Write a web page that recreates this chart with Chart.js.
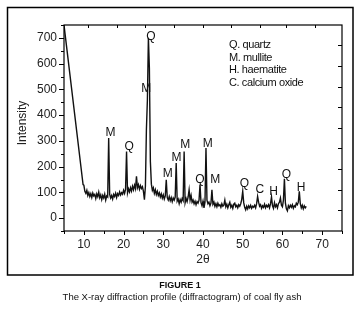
<!DOCTYPE html>
<html>
<head>
<meta charset="utf-8">
<style>
  html, body { margin: 0; padding: 0; background: #fff; }
</style>
<script src="https://cdn.jsdelivr.net/npm/chart.js"></script>
</head>
<body>
<canvas id="xrdChart" width="360" height="311"></canvas>
<script>
// lead-in of the scan (steep fall from the low-angle edge)
const leadTheta = [5, 9.8];
const leadIntensity = [750, 130];

// main scan, 2θ from 10 to 66 in steps of 0.25
const scanStart = 10;
const scanStep = 0.25;
const scanIntensity = [
  128, 104, 96, 108,   // 10
  88, 99, 84, 95,      // 11
  80, 97, 86, 92,      // 12
  76, 94, 83, 101,     // 13
  79, 90, 72, 88,      // 14
  78, 93, 70, 86,      // 15
  82, 311, 92, 78,     // 16
  88, 74, 92, 84,      // 17
  97, 80, 95, 88,      // 18
  102, 90, 99, 93,     // 19
  108, 96, 112, 259,   // 20
  98, 114, 102, 118,   // 21
  105, 124, 110, 128,  // 22
  114, 162, 118, 130,  // 23
  112, 126, 115, 122,  // 24
  104, 72, 124, 344,   // 25
  460, 700, 583, 220,  // 26
  132, 108, 118, 96,   // 27
  110, 92, 104, 88,    // 28
  98, 82, 94, 78,      // 29
  90, 74, 86, 149,     // 30
  80, 70, 84, 68,      // 31
  80, 64, 78, 70,      // 32
  82, 214, 66, 74,     // 33
  56, 72, 62, 76,      // 34
  68, 259, 60, 76,     // 35
  64, 82, 110, 70,     // 36
  88, 62, 70, 56,      // 37
  66, 52, 64, 58,      // 38
  70, 130, 60, 48,     // 39
  66, 40, 62, 272,     // 40
  70, 56, 62, 48,      // 41
  58, 110, 54, 62,     // 42
  46, 56, 44, 58,      // 43
  48, 52, 42, 56,      // 44
  46, 50, 70, 44,      // 45
  54, 40, 52, 62,      // 46
  42, 50, 38, 54,      // 47
  58, 44, 50, 40,      // 48
  52, 46, 56, 72,      // 49
  104, 60, 42, 32,     // 50
  46, 36, 48, 40,      // 51
  50, 38, 46, 42,      // 52
  50, 40, 56, 84,      // 53
  62, 46, 52, 38,      // 54
  48, 42, 54, 40,      // 55
  50, 44, 52, 40,      // 56
  56, 82, 48, 38,      // 57
  60, 44, 52, 40,      // 58
  56, 62, 78, 50,      // 59
  44, 70, 153, 58,     // 60
  36, 28, 48, 40,      // 61
  50, 42, 52, 38,      // 62
  48, 44, 58, 52,      // 63
  62, 104, 56, 40,     // 64
  50, 36, 48, 40,      // 65
  46                   // 66
];

// phase letters above the peaks
const peakText  = ["M", "Q", "M", "Q", "M", "M", "M", "Q", "M", "M", "Q", "C", "H", "Q", "H"];
const peakTheta = [16.7, 21.4, 25.7, 26.9, 31.1, 33.3, 35.5, 39.2, 41.2, 43.1, 50.4, 54.3, 57.8, 61.0, 64.7];
const peakLevel = [331, 276, 502, 704, 172, 233, 284, 149, 289, 149, 135, 110, 101, 168, 117];

const legendLines = ["Q. quartz", "M. mullite", "H. haematite", "C. calcium oxide"];

const xTicks = [10, 20, 30, 40, 50, 60, 70];
const yTicks = [0, 100, 200, 300, 400, 500, 600, 700];
const topAxisTicks = [11.1, 18.3, 25.5, 32.7, 39.9, 47.1, 54.3, 61.0, 68.2];
const rightAxisTicks = [31, 111, 191, 271, 351, 431, 511, 591, 671];

let points = leadTheta.map((t, i) => ({ x: t, y: leadIntensity[i] }));
scanIntensity.forEach((v, i) => {
  points.push({ x: scanStart + i * scanStep, y: v });
});

const FONT = "'Liberation Sans', Arial, sans-serif";

const framePlugin = {
  id: "frame",
  afterDraw(chart) {
    const ctx = chart.ctx;
    const a = chart.chartArea;
    const xs = chart.scales.x;
    const ys = chart.scales.y;
    ctx.save();
    ctx.strokeStyle = "#000";
    ctx.lineWidth = 1.2;
    ctx.strokeRect(a.left, a.top, a.right - a.left, a.bottom - a.top);

    ctx.lineWidth = 1;
    ctx.beginPath();
    // left: major outward + minor
    for (let v = -50; v <= 750; v += 50) {
      const py = Math.round(ys.getPixelForValue(v)) + 0.5;
      const len = v % 100 === 0 ? 5 : 3;
      ctx.moveTo(a.left, py);
      ctx.lineTo(a.left - len, py);
    }
    // bottom: outward
    for (let v = 5; v <= 75; v += 5) {
      const px = Math.round(xs.getPixelForValue(v)) + 0.5;
      const len = v % 10 === 0 ? 4 : 3;
      ctx.moveTo(px, a.bottom);
      ctx.lineTo(px, a.bottom + len);
    }
    // top: inward
    topAxisTicks.forEach(v => {
      const px = Math.round(xs.getPixelForValue(v)) + 0.5;
      ctx.moveTo(px, a.top);
      ctx.lineTo(px, a.top + 3);
    });
    // right: inward
    rightAxisTicks.forEach(v => {
      const py = Math.round(ys.getPixelForValue(v)) + 0.5;
      ctx.moveTo(a.right, py);
      ctx.lineTo(a.right - 4, py);
    });
    ctx.stroke();

    // peak letters
    ctx.fillStyle = "#111";
    ctx.font = "12px " + FONT;
    ctx.textAlign = "center";
    ctx.textBaseline = "middle";
    peakText.forEach((t, i) => {
      ctx.fillText(t, xs.getPixelForValue(peakTheta[i]), ys.getPixelForValue(peakLevel[i]));
    });

    // legend text
    ctx.textAlign = "left";
    ctx.font = "11px " + FONT;
    ctx.letterSpacing = "-0.4px";
    legendLines.forEach((t, i) => {
      ctx.fillText(t, a.left + 165, a.top + 20 + i * 12.5);
    });

    // axis titles
    ctx.letterSpacing = "0px";
    ctx.fillStyle = "#222";
    ctx.font = "12px " + FONT;
    ctx.textAlign = "center";
    ctx.fillText("2θ", 203, 260);
    ctx.save();
    ctx.translate(23, 123);
    ctx.rotate(-Math.PI / 2);
    ctx.fillText("Intensity", 0, 0);
    ctx.restore();

    // outer border of the figure
    ctx.lineWidth = 1.5;
    ctx.strokeStyle = "#000";
    ctx.strokeRect(7.5, 7.5, 345.5, 267.5);

    // caption
    ctx.fillStyle = "#111";
    ctx.font = "bold 9px " + FONT;
    ctx.fillText("FIGURE 1", 180, 286);
    ctx.font = "9.5px " + FONT;
    ctx.fillText("The X-ray diffraction profile (diffractogram) of coal fly ash", 182, 297);
    ctx.restore();
  }
};

const ctx = document.getElementById("xrdChart").getContext("2d");
new Chart(ctx, {
  type: "line",
  data: {
    datasets: [
      {
        data: points,
        borderColor: "#111",
        borderWidth: 1.4,
        pointRadius: 0,
        tension: 0,
        fill: false,
      },
    ],
  },
  options: {
    responsive: false,
    animation: false,
    devicePixelRatio: 1,
    layout: { padding: { left: 0, top: 25, right: 18, bottom: 0 } },
    plugins: {
      legend: { display: false },
      tooltip: { enabled: false },
    },
    scales: {
      x: {
        type: "linear",
        min: 5,
        max: 75,
        afterBuildTicks: (s) => { s.ticks = xTicks.map(v => ({ value: v })); },
        afterFit: (s) => { s.height = 80; },
        grid: { display: false, drawTicks: false },
        border: { display: false },
        ticks: {
          color: "#222",
          font: { family: FONT, size: 12 },
          padding: 6,
          maxRotation: 0,
          autoSkip: false,
        },
      },
      y: {
        min: -50,
        max: 750,
        afterBuildTicks: (s) => { s.ticks = yTicks.map(v => ({ value: v })); },
        afterFit: (s) => { s.width = 64; },
        grid: { display: false, drawTicks: false },
        border: { display: false },
        ticks: {
          color: "#222",
          font: { family: FONT, size: 12 },
          padding: 7,
          autoSkip: false,
        },
      },
    },
  },
  plugins: [framePlugin],
});
</script>
</body>
</html>
